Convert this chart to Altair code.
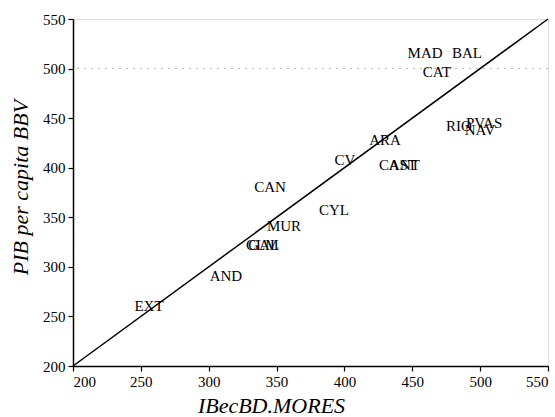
import altair as alt
import pandas as pd

regions = ["EXT", "AND", "CLM", "GAL", "MUR", "CAN", "CYL", "CV", "ARA",
           "CANT", "AST", "RIO", "NAV", "PVAS", "CAT", "MAD", "BAL"]
ibec = [256, 312.7, 339.5, 340.5, 355.5, 345.2, 392.3, 400.4, 429.9,
        440.6, 443.0, 484.4, 499.9, 502.9, 468.2, 459.4, 490.3]
pib = [260.5, 290.8, 322, 322, 341, 380.5, 357.4, 407.8, 428,
       402.7, 402.7, 442, 438, 445, 496.5, 515.7, 515.7]

diag_x = [200, 550]
diag_y = [200, 550]
ref_y = [500]
ticks = [200, 250, 300, 350, 400, 450, 500, 550]

FONT = "Liberation Serif"

df = pd.DataFrame({"region": regions, "x": ibec, "y": pib})
diag = pd.DataFrame({"x": diag_x, "y": diag_y})
ref = pd.DataFrame({"y": ref_y})

xscale = alt.Scale(domain=[200, 550], nice=False, zero=False)
yscale = alt.Scale(domain=[200, 550], nice=False, zero=False)

xaxis = alt.Axis(values=ticks, title="IBecBD.MORES",
                 titleX=198, titleY=29, titleBaseline="top")
yaxis = alt.Axis(values=ticks, title="PIB per capita BBV",
                 titleX=-41, titleY=187 - 19)

refline = alt.Chart(ref).mark_rule(color="#b8b8b8", strokeWidth=1,
                                   strokeDash=[2, 5]).encode(
    y=alt.Y("y:Q", scale=yscale, axis=yaxis)
)

line = alt.Chart(diag).mark_line(color="black", strokeWidth=1.5).encode(
    x=alt.X("x:Q", scale=xscale, axis=xaxis),
    y=alt.Y("y:Q", scale=yscale, axis=yaxis),
)

text = alt.Chart(df).mark_text(font=FONT, fontSize=15, color="black",
                               align="center", baseline="middle").encode(
    x=alt.X("x:Q", scale=xscale, axis=xaxis),
    y=alt.Y("y:Q", scale=yscale, axis=yaxis),
    text="region:N",
)

chart = alt.layer(refline, line, text).properties(
    width=475, height=347,
    autosize=alt.AutoSizeParams(type="none"),
    padding={"left": 73, "top": 19, "right": 7, "bottom": 51},
).configure_view(stroke="black", strokeWidth=1.5).configure(
    background="white", font=FONT
).configure_axis(
    grid=False, domainColor="black", domainWidth=1.5, tickColor="black",
    tickWidth=1.2, tickSize=5, labelFont=FONT, labelFontSize=15,
    labelColor="black", labelPadding=3, titleFont=FONT, titleFontSize=22,
    titleFontStyle="italic", titleFontWeight="normal", titleColor="black",
)

chart.save("out.html", embed_options={"renderer": "svg", "actions": False})
